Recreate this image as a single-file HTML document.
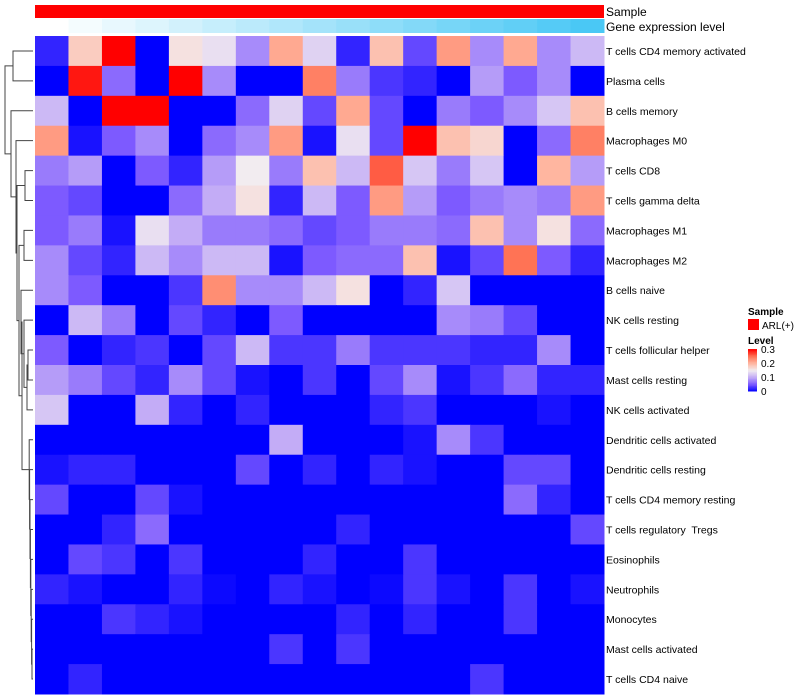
<!DOCTYPE html>
<html><head><meta charset="utf-8"><style>
html,body{margin:0;padding:0;background:#fff;}
svg{display:block;font-family:"Liberation Sans",sans-serif;}
text{white-space:pre;}
</style></head><body>
<svg id="chart" width="800" height="700" viewBox="0 0 800 700" xmlns="http://www.w3.org/2000/svg"></svg>
<script>
const rowLabels=["T cells CD4 memory activated","Plasma cells","B cells memory","Macrophages M0","T cells CD8","T cells gamma delta","Macrophages M1","Macrophages M2","B cells naive","NK cells resting","T cells follicular helper","Mast cells resting","NK cells activated","Dendritic cells activated","Dendritic cells resting","T cells CD4 memory resting","T cells regulatory  Tregs","Eosinophils","Neutrophils","Monocytes","Mast cells activated","T cells CD4 naive"];
const geneLevel=[0,1,2,3,4,5,6,7,8,9,10,11,12,13,14,15,16];
const values=[
[0.02,0.18,0.3,0,0.16,0.14,0.08,0.21,0.13,0.02,0.19,0.04,0.22,0.08,0.21,0.08,0.11],
[0,0.29,0.06,0,0.3,0.08,0,0,0.24,0.07,0.03,0.02,0,0.09,0.05,0.08,0],
[0.11,0,0.3,0.3,0,0,0.06,0.13,0.04,0.21,0.04,0,0.07,0.05,0.08,0.12,0.19],
[0.22,0.01,0.05,0.08,0,0.06,0.08,0.22,0.01,0.14,0.04,0.3,0.19,0.17,0,0.06,0.24],
[0.07,0.09,0,0.05,0.02,0.09,0.15,0.07,0.19,0.11,0.26,0.12,0.07,0.12,0,0.2,0.09],
[0.05,0.04,0,0,0.06,0.1,0.16,0.02,0.11,0.05,0.22,0.09,0.05,0.07,0.08,0.07,0.22],
[0.05,0.07,0.01,0.14,0.1,0.07,0.07,0.06,0.04,0.05,0.07,0.07,0.06,0.19,0.08,0.16,0.06],
[0.08,0.04,0.02,0.11,0.08,0.11,0.11,0.01,0.05,0.06,0.06,0.19,0.01,0.04,0.25,0.05,0.02],
[0.08,0.05,0,0,0.03,0.23,0.08,0.08,0.11,0.16,0,0.02,0.12,0,0,0,0],
[0,0.11,0.07,0,0.04,0.02,0,0.05,0,0,0,0,0.08,0.07,0.04,0,0],
[0.05,0,0.02,0.03,0,0.04,0.11,0.03,0.03,0.07,0.03,0.03,0.03,0.02,0.02,0.08,0],
[0.09,0.07,0.04,0.02,0.08,0.04,0.01,0,0.03,0,0.04,0.08,0.01,0.03,0.06,0.02,0.02],
[0.12,0,0,0.1,0.02,0,0.02,0,0,0,0.02,0.03,0,0,0,0.01,0],
[0,0,0,0,0,0,0,0.1,0,0,0,0.01,0.08,0.03,0,0,0],
[0.01,0.02,0.02,0,0,0,0.04,0,0.02,0,0.02,0.01,0,0,0.04,0.04,0],
[0.04,0,0,0.04,0.01,0,0,0,0,0,0,0,0,0,0.06,0.02,0],
[0,0,0.02,0.06,0,0,0,0,0,0.02,0,0,0,0,0,0,0.04],
[0,0.04,0.03,0,0.03,0,0,0,0.02,0,0,0.03,0,0,0,0,0],
[0.02,0.01,0,0,0.02,0.005,0,0.02,0.01,0,0.005,0.03,0.01,0,0.03,0,0.01],
[0,0,0.03,0.02,0.01,0,0,0,0,0.02,0,0.02,0,0,0.03,0,0],
[0,0,0,0,0,0,0,0.03,0,0.03,0,0,0,0,0,0,0],
[0,0.02,0,0,0,0,0,0,0,0,0,0,0,0.03,0,0,0]];
const legendTicks=[0,0.1,0.2,0.3];

const NS="http://www.w3.org/2000/svg";
const svg=document.getElementById('chart');
function mk(t,a,p){const e=document.createElementNS(NS,t);for(const k in a)e.setAttribute(k,a[k]);(p||svg).appendChild(e);return e;}
const X0=35,X1=604,Y0=36,Y1=694;
const nC=values[0].length,nR=values.length;
const cw=(X1-X0)/nC,rh=(Y1-Y0)/nR;
const xs=j=>X0+j*cw, ys=i=>Y0+i*rh;
const stops=[[0,[0,0,255]],[0.05,[125,90,255]],[0.1,[195,172,246]],[0.15,[242,236,240]],[0.2,[255,182,160]],[0.25,[255,115,85]],[0.3,[255,0,0]]];
function col(v){v=Math.max(0,Math.min(0.3,v));for(let k=1;k<stops.length;k++){if(v<=stops[k][0]){const a=stops[k-1],b=stops[k];const t=(v-a[0])/(b[0]-a[0]);const c=a[1].map((x,i)=>Math.round(x+(b[1][i]-x)*t));return `rgb(${c})`;}}return 'rgb(255,0,0)';}
const sb=mk('rect',{x:X0,y:5,width:X1-X0,height:13,fill:'#ff0000'});


const gmax=Math.max(...geneLevel);
geneLevel.forEach((g,j)=>{const t=g/gmax;const c=[255-Math.round(t*(255-74)),255-Math.round(t*(255-200)),255-Math.round(t*(255-245))];
const r=mk('rect',{x:xs(j),y:19,width:cw+0.5,height:14,fill:`rgb(${c})`});

});
const t1=mk('text',{x:606,y:16,'font-size':12,fill:'#000'});t1.textContent='Sample';


const t2=mk('text',{x:606,y:31,'font-size':12,fill:'#000'});t2.textContent='Gene expression level';


values.forEach((row,i)=>row.forEach((v,j)=>{const r=mk('rect',{x:xs(j),y:ys(i),width:cw+0.5,height:rh+0.5,fill:col(v)});

}));
rowLabels.forEach((l,i)=>{const t=mk('text',{x:606,y:ys(i)+rh/2+4,'font-size':10.5,fill:'#000','xml:space':'preserve'});t.textContent=l;

});
const dg=mk('g',{stroke:'#444','stroke-width':1,fill:'none'});


const leafX=33;
function leaf(i){return {y:ys(i)+rh/2,x:leafX};}
function merge(a,b,h){mk('path',{d:`M${a.x},${a.y}H${h}V${b.y}H${b.x}`},dg);return {x:h,y:(a.y+b.y)/2};}
let m0=merge(leaf(0),leaf(1),13);
let m1=merge(leaf(4),leaf(5),25);
let m2=merge(leaf(6),leaf(7),24);
let m3=merge(leaf(10),leaf(11),28);
let m4=merge(m3,leaf(12),27);
let m5=merge(leaf(9),m4,24);
let m6=merge(leaf(8),m5,21);
let ch=leaf(21);
for(let i=20;i>=13;i--){ch=merge(leaf(i),ch,32-(20-i)*0.4);}
let m8=merge(m6,ch,22);
let m9=merge(m2,m8,19);
let m10=merge(m1,m9,17);
let m11=merge(leaf(3),m10,16);
let m12=merge(leaf(2),m11,11);
merge(m0,m12,5);
const lg=mk('g',{});


mk('text',{x:748,y:315,'font-size':10,'font-weight':'bold'},lg).textContent='Sample';
const sw=mk('rect',{x:748,y:319,width:11,height:11,fill:'#ff0000'},lg);


mk('text',{x:762,y:329,'font-size':10},lg).textContent='ARL(+)';
mk('text',{x:748,y:344,'font-size':10,'font-weight':'bold'},lg).textContent='Level';
const cbTop=349,cbBot=391;
const ly=v=>cbBot-(v/0.3)*(cbBot-cbTop);
for(let k=0;k<30;k++){const v=k*0.01;mk('rect',{x:748,y:ly(v+0.01),width:9,height:(cbBot-cbTop)/30+0.5,fill:col(v+0.005)},lg);}
legendTicks.forEach(v=>{const t=mk('text',{x:761,y:ly(v)+4,'font-size':10},lg);t.textContent=String(v);

});
</script>
</body></html>
